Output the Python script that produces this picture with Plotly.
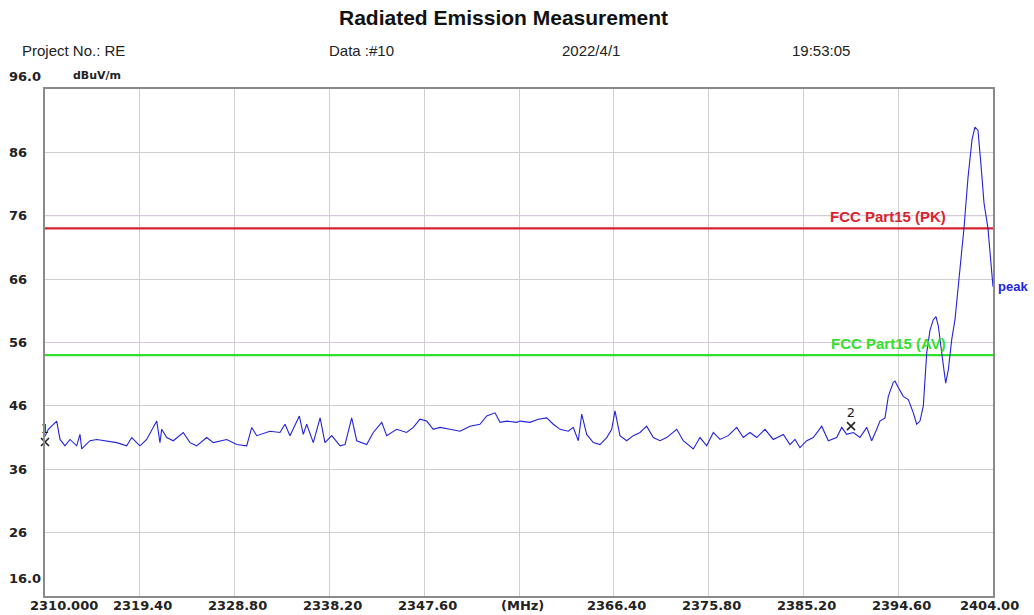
import plotly.graph_objects as go

# ---------------- data ----------------
freq_mhz = [
    2310.00, 2310.33, 2311.16, 2311.49, 2311.98, 2312.48, 2313.14, 2313.47, 2313.64, 2314.46,
    2315.13, 2316.12, 2317.11, 2318.10, 2318.60, 2319.09, 2319.42, 2320.08, 2321.08, 2321.40,
    2321.57, 2322.07, 2322.72, 2323.71, 2324.38, 2325.04, 2326.03, 2326.69, 2328.02, 2329.01,
    2330.00, 2330.50, 2330.99, 2332.31, 2333.30, 2333.80, 2334.29, 2335.22, 2335.61, 2335.95,
    2336.60, 2337.28, 2337.76, 2338.43, 2339.26, 2339.75, 2340.41, 2340.91, 2341.90, 2342.55,
    2343.39, 2343.88, 2344.87, 2345.86, 2346.52, 2347.18, 2347.85, 2348.50, 2349.17, 2350.16,
    2351.15, 2352.14, 2353.13, 2353.80, 2354.62, 2355.12, 2355.78, 2356.77, 2357.10, 2358.09,
    2358.91, 2359.75, 2360.40, 2361.07, 2361.89, 2362.38, 2362.88, 2363.22, 2363.71, 2364.37,
    2365.03, 2365.70, 2366.19, 2366.52, 2367.01, 2367.68, 2368.33, 2369.00, 2369.66, 2370.32,
    2370.98, 2371.64, 2372.64, 2373.29, 2374.28, 2374.95, 2375.61, 2376.27, 2376.93, 2377.75,
    2378.59, 2379.24, 2379.90, 2380.57, 2381.39, 2382.21, 2383.21, 2383.87, 2384.37, 2384.86,
    2385.53, 2386.18, 2387.02, 2387.67, 2388.50, 2389.00, 2389.49, 2390.15, 2390.81, 2391.48,
    2391.97, 2392.47, 2392.79, 2393.29, 2393.62, 2394.11, 2394.28, 2394.61, 2395.10, 2395.60,
    2396.10, 2396.43, 2396.76, 2397.09, 2397.43, 2397.76, 2398.08, 2398.35, 2398.58, 2398.91,
    2399.31, 2399.57, 2399.91, 2400.23, 2400.73, 2401.12, 2401.52, 2401.92, 2402.21, 2402.51,
    2402.81, 2403.11, 2403.50, 2403.70, 2404.00,
]
peak_dbuv = [
    41.2, 42.3, 43.6, 40.7, 39.7, 40.7, 39.7, 41.5, 39.2, 40.5,
    40.7, 40.5, 40.2, 39.7, 41.0, 40.2, 39.7, 40.7, 43.6, 40.2,
    42.3, 41.0, 40.5, 41.8, 40.2, 39.7, 41.0, 40.2, 40.7, 39.9,
    39.7, 42.6, 41.3, 42.0, 41.8, 43.1, 41.3, 44.4, 41.5, 43.1,
    40.2, 44.1, 40.2, 41.3, 39.7, 39.9, 44.1, 40.5, 39.9, 41.8,
    43.4, 41.3, 42.3, 41.8, 42.6, 43.9, 43.6, 42.3, 42.6, 42.3,
    42.0, 42.8, 43.1, 44.4, 44.9, 43.4, 43.6, 43.4, 43.6, 43.4,
    43.9, 44.1, 43.1, 42.3, 42.0, 42.6, 40.5, 44.7, 41.5, 40.2,
    39.9, 41.0, 42.3, 45.2, 41.3, 40.5, 41.3, 41.8, 42.8, 41.0,
    40.5, 41.0, 42.3, 40.5, 39.2, 41.0, 39.7, 41.8, 40.7, 41.3,
    42.6, 41.0, 41.8, 41.0, 42.3, 40.7, 41.5, 39.9, 40.7, 39.4,
    40.5, 41.0, 42.8, 40.5, 41.0, 42.6, 41.5, 41.8, 41.0, 42.6,
    40.5, 42.3, 43.6, 44.1, 47.5, 49.7, 49.9, 48.9, 47.5, 47.0,
    44.9, 43.1, 43.6, 46.0, 54.4, 58.0, 59.6, 60.1, 58.6, 54.4,
    49.6, 51.7, 56.5, 59.6, 68.0, 74.0, 82.0, 88.0, 90.0, 89.5,
    84.0, 78.0, 74.0, 70.0, 64.8,
]

limit_names = ["FCC Part15 (PK)", "FCC Part15 (AV)"]
limit_levels = [74.0, 54.0]
limit_colors = ["#d9232d", "#2fe02f"]

marker_labels = ["1", "2"]
marker_freq = [2310.00, 2389.92]
marker_level = [40.3, 42.8]

x_tick_vals = [2310.0, 2319.4, 2328.8, 2338.2, 2347.6, 2357.0, 2366.4, 2375.8, 2385.2, 2394.6, 2404.0]
x_tick_text = ["2310.000", "2319.40", "2328.80", "2338.20", "2347.60", "(MHz)",
               "2366.40", "2375.80", "2385.20", "2394.60", "2404.00"]
y_tick_vals = [96, 86, 76, 66, 56, 46, 36, 26, 16]
y_tick_text = ["96.0", "86", "76", "66", "56", "46", "36", "26", "16.0"]

# ---------------- figure ----------------
X0, X1 = 2310.0, 2404.0
Y0, Y1 = 16.0, 96.0
L, R, T, B = 45, 993, 89, 596
W, H = 1034, 615

fig = go.Figure()

# highlighted gridlines near limits (faint purple)
for lv in [76, 56]:
    fig.add_trace(go.Scatter(x=[X0, X1], y=[lv, lv], mode="lines",
                             line=dict(color="#d9c8dc", width=1),
                             hoverinfo="skip", showlegend=False))

for name, lv, col in zip(limit_names, limit_levels, limit_colors):
    fig.add_trace(go.Scatter(x=[X0, X1], y=[lv, lv], mode="lines",
                             line=dict(color=col, width=2.2),
                             name=name, showlegend=False))

fig.add_trace(go.Scatter(x=freq_mhz, y=peak_dbuv, mode="lines",
                         line=dict(color="#2222dd", width=1.1),
                         name="peak", showlegend=False, cliponaxis=False))

fig.add_trace(go.Scatter(x=marker_freq, y=marker_level, mode="markers+text",
                         text=marker_labels, textposition="top center",
                         textfont=dict(family="DejaVu Sans", size=13, color="#222222"),
                         marker=dict(symbol="x-thin", size=8,
                                     line=dict(color="#222222", width=1.6)),
                         showlegend=False, cliponaxis=False))

px = lambda p: (p - L) / (R - L)
py = lambda p: (B - p) / (B - T)

ann = []
# title and header
ann.append(dict(text="<b>Radiated Emission Measurement</b>", x=px(503), y=py(18),
                xref="paper", yref="paper", xanchor="center", yanchor="middle", showarrow=False,
                font=dict(family="Liberation Sans", size=21, color="#111111")))
header = [("Project No.: RE", 20), ("Data :#10", 327), ("2022/4/1", 560), ("19:53:05", 790)]
for txt, xp in header:
    ann.append(dict(text=txt, x=px(xp), y=py(50), xref="paper", yref="paper",
                    xanchor="left", yanchor="middle", showarrow=False,
                    font=dict(family="Liberation Sans", size=15, color="#222222")))
ann.append(dict(text="<b>dBuV/m</b>", x=px(71), y=py(75), xref="paper", yref="paper",
                xanchor="left", yanchor="middle", showarrow=False,
                font=dict(family="DejaVu Sans", size=11, color="#222222")))

# y tick labels
for v, t in zip(y_tick_vals, y_tick_text):
    shift = 0
    if v == Y1:
        shift = 13
    elif v == Y0:
        shift = 18
    ann.append(dict(text="<b>%s</b>" % t, x=px(7), y=v, xref="paper", yref="y",
                    xanchor="left", yanchor="middle", yshift=shift, showarrow=False,
                    font=dict(family="DejaVu Sans", size=13, color="#222222")))
# x tick labels
for v, t in zip(x_tick_vals, x_tick_text):
    xs = 3
    if v == X0:
        xs = 19
    elif v == X1:
        xs = -4
    ann.append(dict(text="<b>%s</b>" % t, x=v, y=0, xref="x", yref="paper",
                    xanchor="center", yanchor="top", xshift=xs, showarrow=False,
                    font=dict(family="DejaVu Sans", size=13, color="#222222")))

# limit labels
for name, lv, col in zip(limit_names, limit_levels, limit_colors):
    ann.append(dict(text="<b>%s</b>" % name, x=2393.6, y=lv, xref="x", yref="y",
                    xanchor="center", yanchor="bottom", yshift=1, showarrow=False,
                    font=dict(family="Liberation Sans", size=15, color=col)))
# trace label
ann.append(dict(text="<b>peak</b>", x=freq_mhz[-1], y=peak_dbuv[-1], xref="x", yref="y",
                xanchor="left", xshift=3, showarrow=False,
                font=dict(family="Liberation Sans", size=13, color="#2222dd")))

fig.update_layout(
    width=W, height=H, autosize=False,
    margin=dict(l=L, r=W - R, t=T, b=H - B, pad=0),
    paper_bgcolor="white", plot_bgcolor="white",
    annotations=ann, showlegend=False,
    xaxis=dict(range=[X0, X1], tickvals=x_tick_vals, showticklabels=False,
               showgrid=True, gridcolor="#cfcfcf", gridwidth=1, zeroline=False,
               showline=True, linecolor="#8a8a8a", linewidth=2, mirror=True, ticks=""),
    yaxis=dict(range=[Y0, Y1], tickvals=y_tick_vals, showticklabels=False,
               showgrid=True, gridcolor="#cfcfcf", gridwidth=1, zeroline=False,
               showline=True, linecolor="#8a8a8a", linewidth=2, mirror=True, ticks=""),
)

fig.write_html("out.html", post_script="document.body.style.margin='0';",
               config={"displayModeBar": False})
